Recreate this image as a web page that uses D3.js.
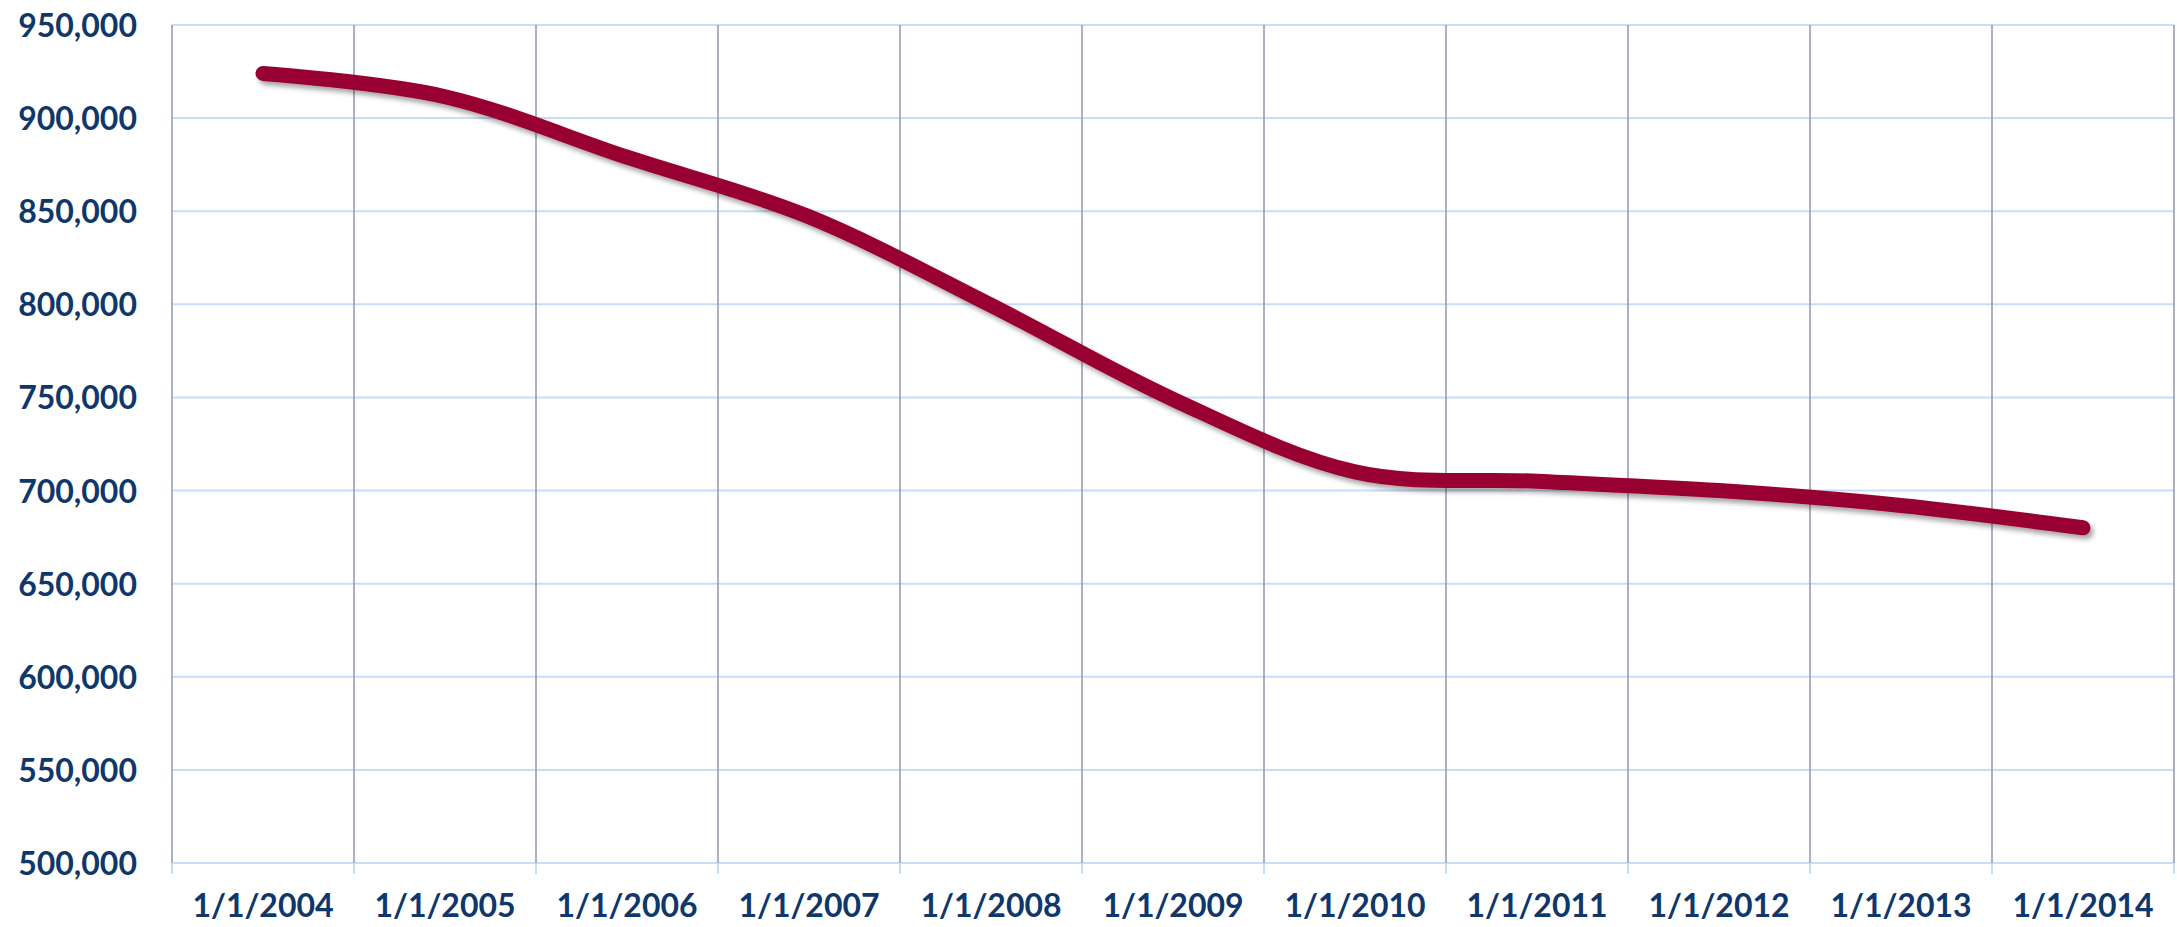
<!DOCTYPE html>
<html>
<head>
<meta charset="utf-8">
<script src="https://cdnjs.cloudflare.com/ajax/libs/d3/7.8.5/d3.min.js"></script>
<style>
  html, body { margin: 0; padding: 0; background: #ffffff; }
  svg { display: block; }
  .lbl { font-family: Lato, "Open Sans", sans-serif; font-weight: 700; fill: #10376a; }
</style>
</head>
<body>
<svg id="chart" width="2177" height="927"></svg>
<script>
const categories = ["1/1/2004","1/1/2005","1/1/2006","1/1/2007","1/1/2008","1/1/2009","1/1/2010","1/1/2011","1/1/2012","1/1/2013","1/1/2014"];
const values = [924000, 911500, 879000, 847000, 799500, 749000, 710000, 705000, 700000, 692000, 680000];
const yTicks = [500000, 550000, 600000, 650000, 700000, 750000, 800000, 850000, 900000, 950000];

const W = 2177, H = 927;
const m = { left: 172, right: 3, top: 25, bottom: 64 };
const svg = d3.select("#chart");

const x = d3.scaleBand().domain(categories).range([m.left, W - m.right]).padding(0);
const y = d3.scaleLinear().domain([500000, 950000]).range([H - m.bottom, m.top]);

const defs = svg.append("defs");
const f = defs.append("filter").attr("id", "shadow").attr("x", "-5%").attr("y", "-20%").attr("width", "110%").attr("height", "140%");
f.append("feDropShadow").attr("dx", 3).attr("dy", 4).attr("stdDeviation", 2.5)
  .attr("flood-color", "#000").attr("flood-opacity", 0.35);

// boundaries of bands
const bounds = categories.map(c => x(c)).concat([x(categories[categories.length - 1]) + x.bandwidth()]);

// horizontal gridlines
svg.append("g").selectAll("line").data(yTicks).join("line")
  .attr("x1", m.left).attr("x2", W - m.right)
  .attr("y1", d => y(d)).attr("y2", d => y(d))
  .attr("stroke", "#c8ddf7").attr("stroke-width", 2);

// tick marks below x axis
svg.append("g").selectAll("line").data(bounds).join("line")
  .attr("x1", d => d).attr("x2", d => d)
  .attr("y1", y(500000)).attr("y2", y(500000) + 11)
  .attr("stroke", "#c8ddf7").attr("stroke-width", 2);

// vertical gridlines
svg.append("g").selectAll("line").data(bounds).join("line")
  .attr("x1", d => d).attr("x2", d => d)
  .attr("y1", y(950000)).attr("y2", y(500000))
  .attr("stroke", "#8f97ab").attr("stroke-width", 1.5);

// y axis labels
const yAxis = d3.axisLeft(y).tickValues(yTicks).tickFormat(d3.format(",")).tickSize(0).tickPadding(35);
const gy = svg.append("g").attr("transform", `translate(${m.left},0)`).call(yAxis);
gy.select(".domain").remove();
gy.selectAll("text").attr("class", "lbl").attr("font-size", 32).attr("dy", "0.36em");

// x axis labels
const xAxis = d3.axisBottom(x).tickSize(0).tickPadding(0);
const gx = svg.append("g").attr("transform", `translate(0,${H - m.bottom})`).call(xAxis);
gx.select(".domain").remove();
gx.selectAll("text").attr("class", "lbl").attr("font-size", 32).attr("dy", null).attr("y", 54);

// line
const line = d3.line()
  .x((d, i) => x(categories[i]) + x.bandwidth() / 2)
  .y(d => y(d))
  .curve(d3.curveCatmullRom.alpha(0));

svg.append("path").datum(values)
  .attr("d", line)
  .attr("fill", "none")
  .attr("stroke", "#990033")
  .attr("stroke-width", 15)
  .attr("stroke-linecap", "round")
  .attr("stroke-linejoin", "round")
  .attr("filter", "url(#shadow)");
</script>
</body>
</html>
